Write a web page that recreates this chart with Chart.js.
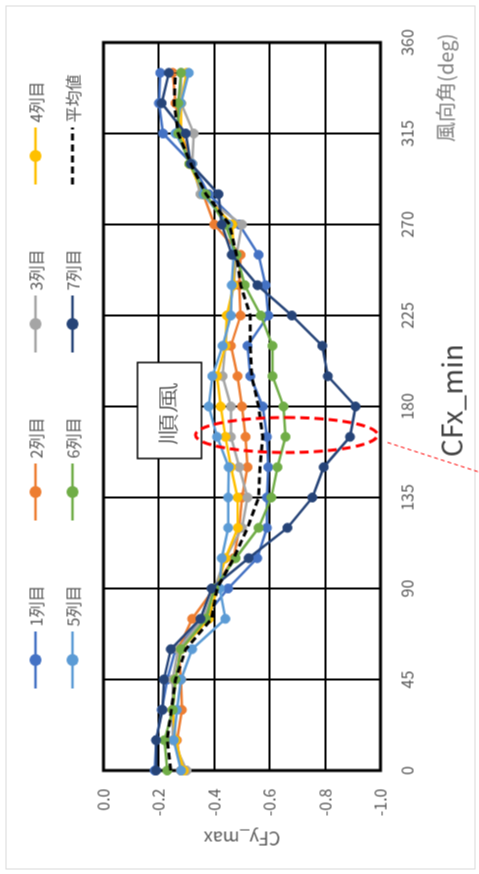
<!DOCTYPE html>
<html>
<head>
<meta charset="utf-8">
<script src="https://cdn.jsdelivr.net/npm/chart.js@4.4.0/dist/chart.umd.min.js"></script>
<style>
  html, body { margin: 0; padding: 0; background: #fff; overflow: hidden; }
  body { width: 479px; height: 874px; position: relative; }
  /* the chart is drawn landscape and turned a quarter turn to the left */
  #wrap { position: absolute; width: 874px; height: 479px; left: -197.5px; top: 197.5px; transform: rotate(-90deg); }
</style>
</head>
<body>
<div id="wrap"><canvas id="chart" width="874" height="479"></canvas></div>
<script>
// wind direction (deg)
const angles = [0, 15, 30, 45, 60, 75, 90, 105, 120, 135, 150, 165, 180, 195, 210, 225, 240, 255, 270, 285, 300, 315, 330, 345];

// CFy_max per row
const row1 = [-0.185, -0.19, -0.21, -0.23, -0.26, -0.36, -0.45, -0.555, -0.59, -0.59, -0.595, -0.59, -0.575, -0.53, -0.52, -0.595, -0.585, -0.56, -0.49, -0.38, -0.32, -0.215, -0.2, -0.205];
const row2 = [-0.28, -0.265, -0.283, -0.28, -0.27, -0.32, -0.40, -0.47, -0.49, -0.50, -0.52, -0.513, -0.50, -0.484, -0.46, -0.495, -0.49, -0.495, -0.40, -0.36, -0.32, -0.28, -0.26, -0.25];
const row3 = [-0.30, -0.25, -0.25, -0.25, -0.27, -0.36, -0.40, -0.44, -0.50, -0.52, -0.49, -0.46, -0.46, -0.43, -0.44, -0.45, -0.47, -0.48, -0.50, -0.35, -0.32, -0.326, -0.28, -0.28];
const row4 = [-0.29, -0.26, -0.25, -0.26, -0.28, -0.38, -0.41, -0.44, -0.485, -0.484, -0.46, -0.44, -0.423, -0.41, -0.44, -0.445, -0.47, -0.47, -0.465, -0.36, -0.31, -0.28, -0.28, -0.30];
const row5 = [-0.28, -0.254, -0.265, -0.28, -0.32, -0.44, -0.42, -0.427, -0.45, -0.45, -0.452, -0.41, -0.38, -0.393, -0.43, -0.46, -0.463, -0.47, -0.45, -0.36, -0.32, -0.26, -0.28, -0.308];
const row6 = [-0.23, -0.22, -0.25, -0.26, -0.28, -0.37, -0.40, -0.477, -0.56, -0.606, -0.628, -0.657, -0.65, -0.61, -0.61, -0.568, -0.51, -0.48, -0.44, -0.37, -0.31, -0.27, -0.27, -0.28];
const row7 = [-0.19, -0.19, -0.213, -0.218, -0.243, -0.35, -0.39, -0.524, -0.664, -0.754, -0.795, -0.89, -0.91, -0.81, -0.79, -0.68, -0.556, -0.463, -0.427, -0.415, -0.315, -0.297, -0.21, -0.236];
const average = [-0.243, -0.23, -0.245, -0.26, -0.297, -0.39, -0.41, -0.47, -0.52, -0.56, -0.565, -0.575, -0.56, -0.535, -0.53, -0.53, -0.495, -0.48, -0.455, -0.37, -0.315, -0.27, -0.255, -0.26];

const seriesNames = ['1列目', '2列目', '3列目', '4列目', '5列目', '6列目', '7列目', '平均値'];
const seriesValues = [row1, row2, row3, row4, row5, row6, row7, average];
const seriesColors = ['#4472C4', '#ED7D31', '#A5A5A5', '#FFC000', '#5B9BD5', '#70AD47', '#264478', '#000000'];

const yTicks = [0, -0.2, -0.4, -0.6, -0.8, -1.0];

const FONT = "'Noto Sans CJK JP', 'Noto Sans', sans-serif";
const TEXT = '#595959';
Chart.defaults.font.family = FONT;

const datasets = seriesValues.map((vals, i) => {
    const isAvg = i === seriesValues.length - 1;
    return {
        label: seriesNames[i],
        data: angles.map((a, k) => ({x: a, y: vals[k]})),
        borderColor: seriesColors[i],
        backgroundColor: seriesColors[i],
        borderWidth: isAvg ? 3 : 2.5,
        borderDash: isAvg ? [7, 4] : [],
        pointRadius: isAvg ? 0 : 4.5,
        pointBorderWidth: 1,
        tension: 0,
        clip: false,
        order: seriesValues.length - i   // later series on top, as in Excel
    };
});

// frame, plot border, callout box, ellipse, labels and the row legend
const decorations = {
    id: 'decorations',
    beforeDatasetsDraw(chart) {
        const {ctx, chartArea: a} = chart;
        ctx.save();
        ctx.strokeStyle = '#000';
        ctx.lineWidth = 3;
        ctx.strokeRect(a.left, a.top, a.right - a.left, a.bottom - a.top);

        // 順風 box
        ctx.fillStyle = '#fff';
        ctx.fillRect(416, 137, 96, 64);
        ctx.lineWidth = 1.5;
        ctx.strokeRect(416, 137, 96, 64);
        ctx.fillStyle = '#404040';
        ctx.font = '300 21px ' + FONT;
        ctx.textAlign = 'center';
        ctx.textBaseline = 'middle';
        ctx.translate(461, 167);
        ctx.scale(1.5, 1);
        ctx.fillText('順風', 0, 0);
        ctx.restore();
    },
    afterDraw(chart) {
        const {ctx} = chart;
        ctx.save();
        // outer frame
        ctx.strokeStyle = '#d9d9d9';
        ctx.lineWidth = 1;
        ctx.strokeRect(5.5, 5.5, 863, 469);

        // red ellipse and leader
        ctx.strokeStyle = '#ff0000';
        ctx.lineWidth = 3;
        ctx.setLineDash([9, 5]);
        ctx.beginPath();
        ctx.ellipse(439.5, 286, 17.5, 91, 0, 0, Math.PI * 2);
        ctx.stroke();
        ctx.lineWidth = 1;
        ctx.setLineDash([4, 3]);
        ctx.beginPath();
        ctx.moveTo(432, 387);
        ctx.lineTo(402, 480);
        ctx.stroke();
        ctx.setLineDash([]);

        // axis caption and CFx_min label
        ctx.textBaseline = 'middle';
        ctx.fillStyle = '#7f7f7f';
        ctx.font = '20px ' + FONT;
        ctx.textAlign = 'right';
        ctx.fillText('風向角(deg)', 841, 445);
        ctx.fillStyle = '#404040';
        ctx.font = '28px ' + FONT;
        ctx.textAlign = 'center';
        ctx.fillText('CFx_min', 474, 451);

        // legend, 4 columns x 2 rows
        const cols = [186, 354, 522, 690];
        const rows = [35, 72];
        ctx.font = '16px ' + FONT;
        ctx.textAlign = 'left';
        chart.data.datasets.forEach((ds, i) => {
            const x = cols[i % 4];
            const y = rows[Math.floor(i / 4)];
            ctx.strokeStyle = ds.borderColor;
            ctx.lineWidth = ds.borderWidth;
            ctx.setLineDash(ds.borderDash);
            ctx.beginPath();
            ctx.moveTo(x, y);
            ctx.lineTo(x + 57, y);
            ctx.stroke();
            ctx.setLineDash([]);
            if (ds.pointRadius > 0) {
                ctx.fillStyle = ds.backgroundColor;
                ctx.beginPath();
                ctx.arc(x + 28.5, y, 6, 0, Math.PI * 2);
                ctx.fill();
            }
            ctx.fillStyle = TEXT;
            ctx.fillText(ds.label, x + 62, y + 1);
        });
        ctx.restore();
    }
};

new Chart(document.getElementById('chart'), {
    type: 'line',
    data: {datasets: datasets},
    options: {
        responsive: false,
        animation: false,
        layout: {padding: {top: 103, right: 42, bottom: 0, left: 0}},
        plugins: {legend: {display: false}, tooltip: {enabled: false}},
        scales: {
            x: {
                type: 'linear',
                min: 0,
                max: 360,
                afterFit: (s) => { s.height = 99; },
                ticks: {stepSize: 45, padding: 17, color: TEXT, font: {size: 16}},
                grid: {color: '#000', lineWidth: 2, drawTicks: false},
                border: {display: false}
            },
            y: {
                min: -1,
                max: 0,
                afterFit: (s) => { s.width = 104; },
                afterBuildTicks: (s) => { s.ticks = yTicks.map(v => ({value: v})); },
                ticks: {padding: 18, color: TEXT, font: {size: 16},
                        callback: (v) => Number(v).toFixed(1)},
                grid: {color: '#000', lineWidth: 2, drawTicks: false},
                border: {display: false},
                title: {display: true, text: 'CFy_max', color: TEXT,
                        font: {size: 18}, padding: {top: 25, bottom: 0}}
            }
        }
    },
    plugins: [decorations]
});
</script>
</body>
</html>
